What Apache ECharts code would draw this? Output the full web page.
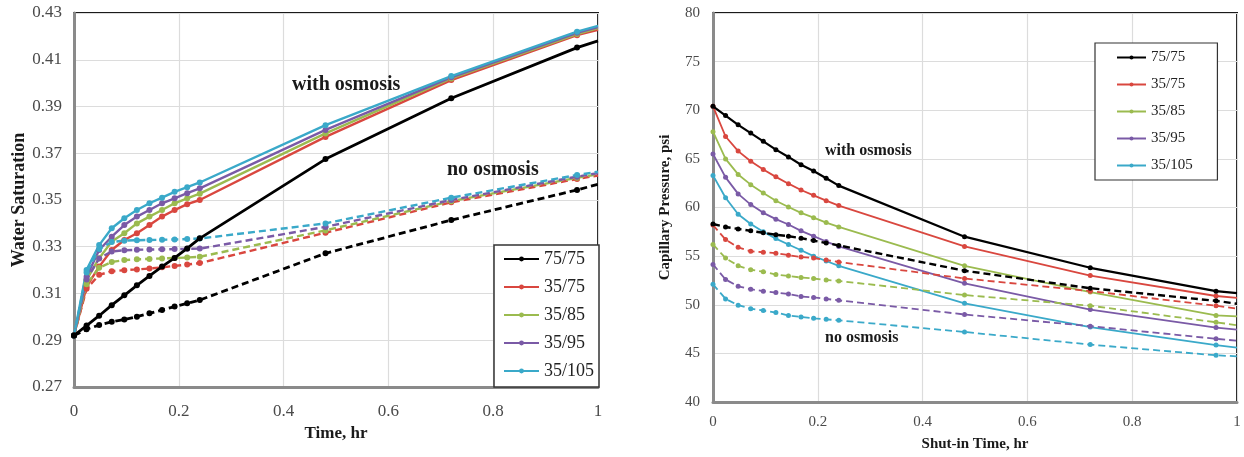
<!DOCTYPE html>
<html>
<head>
<meta charset="utf-8">
<script src="https://cdn.jsdelivr.net/npm/echarts@6/dist/echarts.min.js"></script>
<style>
html,body{margin:0;padding:0;background:#fff;}
#chart{width:1244px;height:457px;}
</style>
</head>
<body>
<div id="chart"></div>
<script>
// ---------- data ----------
const seriesNames = ['75/75', '35/75', '35/85', '35/95', '35/105'];
const colors = ['#000000', '#d9473f', '#9bbb4f', '#7a5aa6', '#3aa9c9'];

// time, hr (shared by both panels)
const time = [0, 0.024, 0.048, 0.072, 0.096, 0.12, 0.144, 0.168, 0.192, 0.216, 0.24, 0.48, 0.72, 0.96, 1.0];

// Left panel: water saturation, with osmosis (solid)
const swOsm_75_75  = [0.292, 0.2963, 0.3005, 0.3050, 0.3092, 0.3135, 0.3175, 0.3215, 0.3252, 0.3293, 0.3336, 0.3675, 0.3935, 0.4152, 0.4181];
const swOsm_35_75  = [0.292, 0.3129, 0.3215, 0.3286, 0.3329, 0.3358, 0.3393, 0.3429, 0.3457, 0.3482, 0.3500, 0.3770, 0.4013, 0.4205, 0.4228];
const swOsm_35_85  = [0.292, 0.3158, 0.3251, 0.3322, 0.3358, 0.3400, 0.3429, 0.3457, 0.3486, 0.3507, 0.3527, 0.3785, 0.4020, 0.4210, 0.4235];
const swOsm_35_95  = [0.292, 0.3172, 0.3286, 0.3343, 0.3393, 0.3429, 0.3457, 0.3486, 0.3507, 0.3529, 0.3550, 0.3800, 0.4025, 0.4215, 0.4240];
const swOsm_35_105 = [0.292, 0.3201, 0.3307, 0.3379, 0.3422, 0.3457, 0.3486, 0.3510, 0.3535, 0.3555, 0.3575, 0.3820, 0.4030, 0.4220, 0.4245];
// Left panel: water saturation, no osmosis (dashed)
const swNo_75_75  = [0.292, 0.2947, 0.2965, 0.2979, 0.2989, 0.3001, 0.3015, 0.3029, 0.3044, 0.3058, 0.3072, 0.3272, 0.3414, 0.3543, 0.3567];
const swNo_35_75  = [0.292, 0.3120, 0.3180, 0.3195, 0.3200, 0.3203, 0.3207, 0.3212, 0.3218, 0.3224, 0.3230, 0.3360, 0.3490, 0.3590, 0.3605];
const swNo_35_85  = [0.292, 0.3140, 0.3210, 0.3235, 0.3243, 0.3246, 0.3248, 0.3250, 0.3252, 0.3254, 0.3257, 0.3370, 0.3495, 0.3595, 0.3610];
const swNo_35_95  = [0.292, 0.3160, 0.3250, 0.3280, 0.3285, 0.3287, 0.3288, 0.3289, 0.3290, 0.3291, 0.3292, 0.3385, 0.3500, 0.3600, 0.3615];
const swNo_35_105 = [0.292, 0.3190, 0.3290, 0.3320, 0.3326, 0.3328, 0.3329, 0.3330, 0.3331, 0.3333, 0.3335, 0.3400, 0.3510, 0.3607, 0.3621];

// Right panel: capillary pressure, psi, with osmosis (solid)
const pcOsm_75_75  = [70.4, 69.45, 68.5, 67.65, 66.8, 65.95, 65.2, 64.4, 63.75, 63.0, 62.25, 57.0, 53.8, 51.4, 51.2];
const pcOsm_35_75  = [70.4, 67.3, 65.8, 64.75, 63.9, 63.15, 62.45, 61.8, 61.25, 60.7, 60.2, 56.0, 53.0, 50.9, 50.7];
const pcOsm_35_85  = [67.8, 65.0, 63.4, 62.35, 61.5, 60.7, 60.05, 59.45, 58.95, 58.45, 58.0, 54.0, 51.3, 48.9, 48.8];
const pcOsm_35_95  = [65.5, 63.1, 61.4, 60.3, 59.45, 58.8, 58.25, 57.6, 57.05, 56.5, 56.0, 52.2, 49.5, 47.65, 47.45];
const pcOsm_35_105 = [63.3, 61.0, 59.3, 58.3, 57.5, 56.8, 56.2, 55.6, 55.0, 54.5, 54.0, 50.15, 47.7, 45.85, 45.6];
// Right panel: capillary pressure, psi, no osmosis (dashed)
const pcNo_75_75  = [58.3, 58.0, 57.8, 57.6, 57.4, 57.2, 57.05, 56.85, 56.6, 56.35, 56.1, 53.5, 51.7, 50.4, 50.1];
const pcNo_35_75  = [58.2, 56.7, 55.9, 55.5, 55.4, 55.3, 55.1, 54.9, 54.8, 54.6, 54.4, 52.7, 51.4, 49.9, 49.6];
const pcNo_35_85  = [56.2, 54.8, 54.0, 53.6, 53.4, 53.1, 52.95, 52.8, 52.7, 52.55, 52.45, 51.0, 49.9, 48.2, 47.9];
const pcNo_35_95  = [54.15, 52.6, 51.9, 51.6, 51.4, 51.25, 51.1, 50.85, 50.75, 50.6, 50.45, 49.0, 47.8, 46.5, 46.3];
const pcNo_35_105 = [52.1, 50.6, 49.95, 49.6, 49.4, 49.2, 48.9, 48.75, 48.6, 48.5, 48.4, 47.2, 45.9, 44.8, 44.7];

// axis tick labels
const swTicks = ['0.27', '0.29', '0.31', '0.33', '0.35', '0.37', '0.39', '0.41', '0.43'];
const pcTicks = ['40', '45', '50', '55', '60', '65', '70', '75', '80'];
const timeTicks = ['0', '0.2', '0.4', '0.6', '0.8', '1'];

// ---------- build ----------
const swOsm = [swOsm_75_75, swOsm_35_75, swOsm_35_85, swOsm_35_95, swOsm_35_105];
const swNo  = [swNo_75_75, swNo_35_75, swNo_35_85, swNo_35_95, swNo_35_105];
const pcOsm = [pcOsm_75_75, pcOsm_35_75, pcOsm_35_85, pcOsm_35_95, pcOsm_35_105];
const pcNo  = [pcNo_75_75, pcNo_35_75, pcNo_35_85, pcNo_35_95, pcNo_35_105];

function pts(vals) {
  return time.map((t, i) => i === time.length - 1
    ? { value: [t, vals[i]], symbol: 'none' }
    : [t, vals[i]]);
}

const serifFont = "'Liberation Serif', 'DejaVu Serif', serif";
const series = [];
function addSet(arr, dashed, gridIdx, width, blackWidth, symSize, suffix) {
  arr.forEach((vals, k) => {
    series.push({
      name: seriesNames[k] + suffix,
      type: 'line',
      xAxisIndex: gridIdx, yAxisIndex: gridIdx,
      data: pts(vals),
      symbol: 'circle',
      symbolSize: symSize,
      showSymbol: true,
      animation: false,
      z: k === 0 ? 3 : 2,
      lineStyle: { color: colors[k], width: k === 0 ? blackWidth : width, type: dashed ? [7, 4] : 'solid' },
      itemStyle: { color: colors[k] }
    });
  });
}
addSet(swOsm, false, 0, 2.4, 2.8, 6, '');
addSet(swNo, true, 0, 2.4, 2.8, 6, ' (no osmosis)');
addSet(pcOsm, false, 1, 1.8, 2.2, 5, ' ');
addSet(pcNo, true, 1, 1.8, 2.4, 5, '  (no osmosis)');

function yTickFmt(ticks, min, step) {
  return v => {
    const idx = Math.round((v - min) / step);
    return ticks[idx] !== undefined ? ticks[idx] : '';
  };
}
const xFmt = v => timeTicks[Math.round(v / 0.2)] || '';

const chart = echarts.init(document.getElementById('chart'), null, { renderer: 'canvas' });
chart.setOption({
  backgroundColor: '#ffffff',
  animation: false,
  grid: [
    { left: 74, top: 13, width: 524, height: 374, show: true, borderColor: '#1a1a1a', borderWidth: 2, backgroundColor: '#fff' },
    { left: 713, top: 13, width: 524, height: 390, show: true, borderColor: '#1a1a1a', borderWidth: 2, backgroundColor: '#fff' }
  ],
  xAxis: [
    {
      gridIndex: 0, type: 'value', min: 0, max: 1, interval: 0.2,
      name: 'Time, hr', nameLocation: 'middle', nameGap: 37,
      nameTextStyle: { fontFamily: serifFont, fontWeight: 'bold', fontSize: 17, color: '#1a1a1a' },
      axisLine: { show: true, onZero: false, lineStyle: { color: '#8a8a8a', width: 3 } },
      axisTick: { show: false },
      axisLabel: { formatter: xFmt, margin: 16, fontFamily: serifFont, fontSize: 17, color: '#4a4a4a' },
      splitLine: { show: true, lineStyle: { color: '#dcdcdc', width: 1.2 } }
    },
    {
      gridIndex: 1, type: 'value', min: 0, max: 1, interval: 0.2,
      name: 'Shut-in Time, hr', nameLocation: 'middle', nameGap: 35,
      nameTextStyle: { fontFamily: serifFont, fontWeight: 'bold', fontSize: 15, color: '#1a1a1a' },
      axisLine: { show: true, onZero: false, lineStyle: { color: '#8a8a8a', width: 3 } },
      axisTick: { show: false },
      axisLabel: { formatter: xFmt, margin: 13, fontFamily: serifFont, fontSize: 15, color: '#4a4a4a' },
      splitLine: { show: true, lineStyle: { color: '#dcdcdc', width: 1.2 } }
    }
  ],
  yAxis: [
    {
      gridIndex: 0, type: 'value', min: 0.27, max: 0.43, interval: 0.02,
      name: 'Water Saturation', nameLocation: 'middle', nameGap: 43, nameRotate: 90,
      nameTextStyle: { fontFamily: serifFont, fontWeight: 'bold', fontSize: 18, color: '#1a1a1a' },
      axisLine: { show: true, onZero: false, lineStyle: { color: '#8a8a8a', width: 3 } },
      axisTick: { show: false },
      axisLabel: { formatter: yTickFmt(swTicks, 0.27, 0.02), margin: 12, fontFamily: serifFont, fontSize: 17, color: '#4a4a4a' },
      splitLine: { show: true, lineStyle: { color: '#dcdcdc', width: 1.2 } }
    },
    {
      gridIndex: 1, type: 'value', min: 40, max: 80, interval: 5,
      name: 'Capillary Pressure, psi', nameLocation: 'middle', nameGap: 40, nameRotate: 90,
      nameTextStyle: { fontFamily: serifFont, fontWeight: 'bold', fontSize: 15, color: '#1a1a1a' },
      axisLine: { show: true, onZero: false, lineStyle: { color: '#8a8a8a', width: 3 } },
      axisTick: { show: false },
      axisLabel: { formatter: yTickFmt(pcTicks, 40, 5), margin: 13, fontFamily: serifFont, fontSize: 15, color: '#4a4a4a' },
      splitLine: { show: true, lineStyle: { color: '#dcdcdc', width: 1.2 } }
    }
  ],
  legend: [
    {
      data: seriesNames, orient: 'vertical', left: 494, top: 245,
      padding: [5, 5, 7, 9], itemWidth: 35, itemHeight: 6, itemGap: 10,
      borderColor: '#333', borderWidth: 1.5, backgroundColor: '#fff',
      textStyle: { fontFamily: serifFont, fontSize: 18, color: '#222', lineHeight: 18 },
      selectedMode: false
    },
    {
      data: seriesNames.map(n => n + ' '), orient: 'vertical', left: 1095, top: 43,
      padding: [7, 21, 7, 21], itemWidth: 29, itemHeight: 5, itemGap: 12,
      borderColor: '#333', borderWidth: 1.2, backgroundColor: '#fff',
      textStyle: { fontFamily: serifFont, fontSize: 15, color: '#222', lineHeight: 15 },
      selectedMode: false
    }
  ],
  graphic: [
    { type: 'text', left: 292, top: 75, z: 100, style: { text: 'with osmosis', font: "bold 20px 'Liberation Serif', serif", fill: '#1a1a1a' } },
    { type: 'text', left: 447, top: 160, z: 100, style: { text: 'no osmosis', font: "bold 20px 'Liberation Serif', serif", fill: '#1a1a1a' } },
    { type: 'text', left: 825, top: 143, z: 100, style: { text: 'with osmosis', font: "bold 16px 'Liberation Serif', serif", fill: '#1a1a1a' } },
    { type: 'text', left: 825, top: 330, z: 100, style: { text: 'no osmosis', font: "bold 16px 'Liberation Serif', serif", fill: '#1a1a1a' } }
  ],
  series: series
});
</script>
</body>
</html>
